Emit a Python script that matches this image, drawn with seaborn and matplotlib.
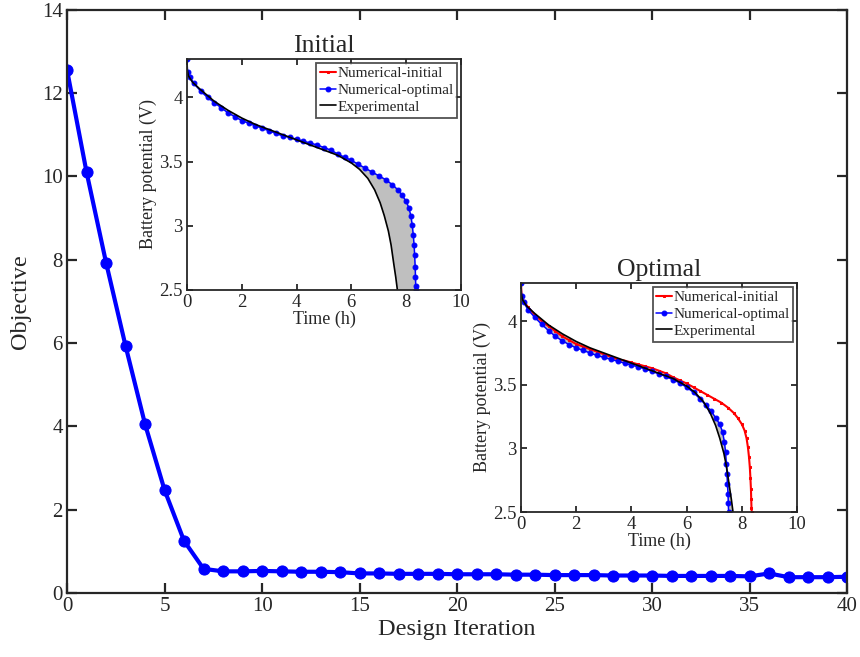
import numpy as np
import pandas as pd
import seaborn as sns
import matplotlib
matplotlib.use("Agg")
import matplotlib.pyplot as plt

# main convergence history
iteration = list(range(41))
objective = [12.55, 10.1, 7.93, 5.93, 4.05, 2.47, 1.25, 0.58, 0.52, 0.52,
             0.53, 0.52, 0.51, 0.51, 0.50, 0.47, 0.47, 0.46, 0.46, 0.46,
             0.45, 0.45, 0.45, 0.44, 0.44, 0.43, 0.43, 0.43, 0.42, 0.42,
             0.42, 0.41, 0.41, 0.41, 0.41, 0.40, 0.47, 0.38, 0.38, 0.38, 0.39]

# numerical discharge curve, initial design
t_init = [0, 0.02, 0.1, 0.25, 0.5, 0.75, 1.0, 1.25, 1.5, 1.75, 2.0, 2.25, 2.5, 2.75,
          3.0, 3.25, 3.5, 3.75, 4.0, 4.25, 4.5, 4.75, 5.0, 5.25, 5.5, 5.75, 6.0,
          6.25, 6.5, 6.75, 7.0, 7.25, 7.5, 7.7, 7.85, 8.0, 8.1, 8.17, 8.22, 8.26,
          8.29, 8.31, 8.33, 8.34, 8.35, 8.36]
v_init = [4.30, 4.20, 4.16, 4.11, 4.05, 4.00, 3.96, 3.92, 3.88, 3.85, 3.82, 3.80, 3.78, 3.76,
          3.74, 3.72, 3.70, 3.69, 3.675, 3.66, 3.645, 3.63, 3.61, 3.59, 3.56, 3.535, 3.51,
          3.48, 3.45, 3.42, 3.39, 3.36, 3.32, 3.28, 3.24, 3.19, 3.14, 3.08, 3.01, 2.93,
          2.85, 2.77, 2.68, 2.60, 2.53, 2.50]

# numerical discharge curve, optimal design
t_opt = [0, 0.02, 0.1, 0.25, 0.5, 0.75, 1.0, 1.25, 1.5, 1.75, 2.0, 2.25, 2.5, 2.75,
         3.0, 3.25, 3.5, 3.75, 4.0, 4.25, 4.5, 4.75, 5.0, 5.25, 5.5, 5.75, 6.0,
         6.25, 6.5, 6.7, 6.9, 7.05, 7.2, 7.3, 7.37, 7.41, 7.44, 7.46, 7.48, 7.50,
         7.51, 7.52]
v_opt = [4.30, 4.20, 4.15, 4.09, 4.03, 3.975, 3.925, 3.88, 3.845, 3.815, 3.79, 3.77, 3.75, 3.73,
         3.715, 3.70, 3.685, 3.67, 3.655, 3.64, 3.625, 3.605, 3.585, 3.565, 3.54, 3.515, 3.48,
         3.44, 3.385, 3.34, 3.29, 3.24, 3.19, 3.13, 3.05, 2.97, 2.88, 2.80, 2.72, 2.64,
         2.57, 2.50]

# experimental discharge curve
t_exp = [0, 0.01, 0.05, 0.2, 0.5, 1.0, 1.5, 2.0, 2.5, 3.0, 3.5, 4.0, 4.5, 5.0, 5.5,
         6.0, 6.3, 6.6, 6.85, 7.05, 7.2, 7.35, 7.45, 7.55, 7.62, 7.68]
v_exp = [4.30, 4.22, 4.17, 4.12, 4.06, 3.97, 3.90, 3.84, 3.79, 3.75, 3.71, 3.67, 3.63, 3.59,
         3.55, 3.49, 3.44, 3.37, 3.28, 3.18, 3.08, 2.96, 2.85, 2.70, 2.60, 2.50]

sns.set_style("ticks")
plt.rcParams['font.family'] = ['Liberation Serif', 'DejaVu Serif']

hist = pd.DataFrame({'iter': iteration, 'obj': objective})
init = pd.DataFrame({'t': t_init, 'v': v_init})
opt = pd.DataFrame({'t': t_opt, 'v': v_opt})
exp = pd.DataFrame({'t': t_exp, 'v': v_exp})

TXT = '#262626'


def style_axes(ax, size, lw, ticklen):
    ax.tick_params(direction='in', top=True, right=True, labelsize=size,
                   width=lw, length=ticklen, colors=TXT, pad=3)
    for s in ax.spines.values():
        s.set_linewidth(lw)
        s.set_color(TXT)


fig = plt.figure(figsize=(8.6, 6.57), dpi=100)

ax = fig.add_axes([0.078, 0.0974, 0.907, 0.8876])
sns.lineplot(data=hist, x='iter', y='obj', ax=ax, color='#0000ff', lw=3,
             marker='o', markersize=8, markeredgecolor='#0000ff')
ax.set_xlim(0, 40)
ax.set_ylim(0, 14)
ax.set_xticks(range(0, 41, 5))
ax.set_yticks(range(0, 15, 2))
ax.set_xlabel('Design Iteration', fontsize=17.5, color=TXT, labelpad=2)
ax.set_ylabel('Objective', fontsize=17.5, color=TXT, labelpad=8)
style_axes(ax, 15, 1.6, 7)


def battery_inset(rect, title, blue_df, show_red):
    a = fig.add_axes(rect)
    a.fill(np.concatenate([blue_df['t'], exp['t'][::-1]]),
           np.concatenate([blue_df['v'], exp['v'][::-1]]),
           color='#bfbfbf', lw=0, zorder=1)
    sns.lineplot(data=init, x='t', y='v', ax=a, sort=False, estimator=None,
                 color='#ff0000', lw=1.5, marker='s', markersize=2,
                 markeredgecolor='#ff0000', label='Numerical-initial',
                 alpha=1 if show_red else 0)
    sns.lineplot(data=blue_df, x='t', y='v', ax=a, sort=False, estimator=None,
                 color='#0000ff', lw=1.1, marker='o', markersize=3.5,
                 markeredgecolor='#0000ff', label='Numerical-optimal')
    sns.lineplot(data=exp, x='t', y='v', ax=a, sort=False, estimator=None,
                 color='black', lw=1.2, label='Experimental')
    a.set_xlim(0, 10)
    a.set_ylim(2.5, 4.3)
    a.set_xticks(range(0, 11, 2))
    a.set_yticks([2.5, 3, 3.5, 4])
    a.set_yticklabels(['2.5', '3', '3.5', '4'])
    a.set_title(title, fontsize=18.5, color=TXT, pad=5)
    a.set_xlabel('Time (h)', fontsize=13, color=TXT, labelpad=0)
    a.set_ylabel('Battery potential (V)', fontsize=13, color=TXT, labelpad=2)
    style_axes(a, 13.5, 1.3, 4)
    leg = a.legend(loc='upper right', fontsize=11, frameon=True, fancybox=False,
                   handlelength=1.0, handletextpad=0.1, borderpad=0.25,
                   labelspacing=0.2, borderaxespad=0.25)
    leg.get_frame().set_edgecolor(TXT)
    leg.get_frame().set_linewidth(1.3)
    for h in leg.legend_handles:
        h.set_alpha(1)
    return a


battery_inset([0.2174, 0.5586, 0.3186, 0.3516], 'Initial', init, False)
battery_inset([0.6058, 0.2207, 0.321, 0.3486], 'Optimal', opt, True)

fig.savefig('out.png', dpi=100)
